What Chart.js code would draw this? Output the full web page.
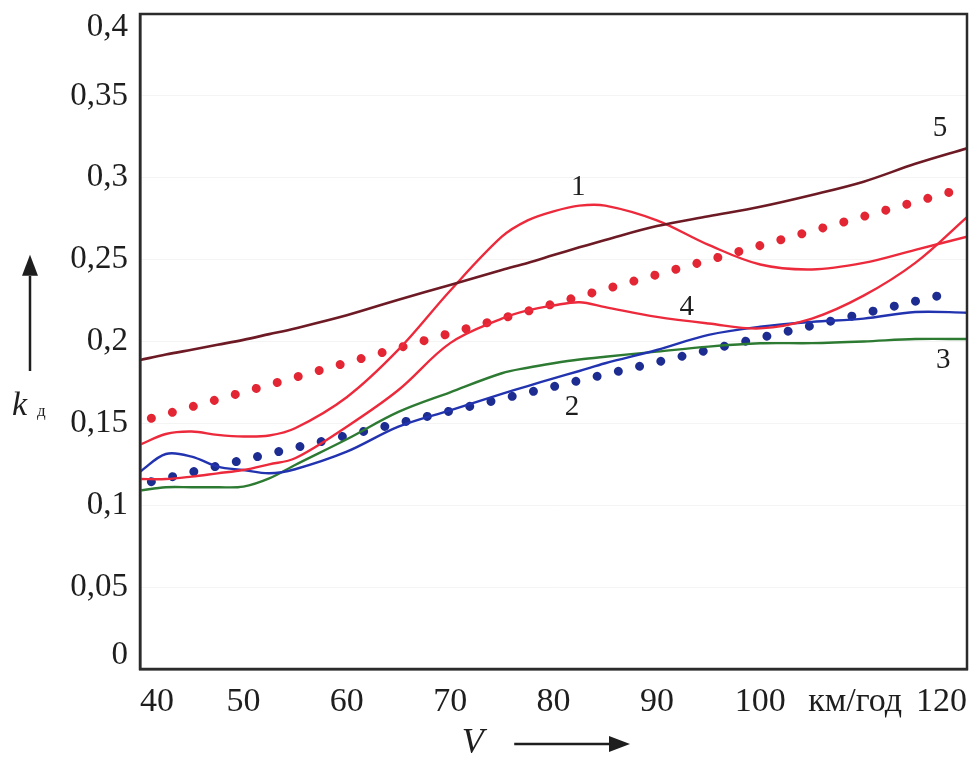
<!DOCTYPE html>
<html>
<head>
<meta charset="utf-8">
<script src="https://cdn.jsdelivr.net/npm/chart.js@4.4.1/dist/chart.umd.min.js"></script>
<style>
  html, body { margin: 0; padding: 0; background: #ffffff; }
  canvas { display: block; }
</style>
</head>
<body>
<canvas id="c" width="980" height="762"></canvas>
<script>
// ---- data ----
const speeds = [40, 42.5, 45, 47.5, 50, 52.5, 55, 60, 65, 70, 75, 77.5, 80, 82.5, 85, 90, 95, 100, 105, 110, 115, 120];

const curve1 = [0.137, 0.1435, 0.145, 0.143, 0.142, 0.1426, 0.147, 0.166, 0.195, 0.231, 0.264, 0.274, 0.2795, 0.283, 0.283, 0.274, 0.259, 0.247, 0.244, 0.248, 0.256, 0.264];
const curve2 = [0.1205, 0.1313, 0.1297, 0.1236, 0.1215, 0.1195, 0.122, 0.1327, 0.148, 0.158, 0.168, 0.1728, 0.1775, 0.182, 0.1867, 0.1948, 0.204, 0.209, 0.212, 0.214, 0.218, 0.2176];
const curve3 = [0.109, 0.111, 0.111, 0.111, 0.1114, 0.1164, 0.1246, 0.1403, 0.157, 0.169, 0.1806, 0.184, 0.1867, 0.189, 0.1907, 0.1938, 0.1969, 0.1989, 0.199, 0.200, 0.2015, 0.2015];
const curve4 = [0.116, 0.116, 0.1175, 0.1195, 0.1215, 0.125, 0.1287, 0.148, 0.1704, 0.199, 0.214, 0.219, 0.222, 0.224, 0.221, 0.215, 0.211, 0.208, 0.214, 0.228, 0.248, 0.276];
const curve5 = [0.1887, 0.192, 0.195, 0.198, 0.201, 0.2045, 0.208, 0.216, 0.2255, 0.2345, 0.2437, 0.248, 0.2528, 0.2575, 0.262, 0.2705, 0.2765, 0.2823, 0.2895, 0.2976, 0.3085, 0.318];

// dotted trend lines (first dot, a middle dot, last dot)
const trendRedSpeeds = [41.1, 83.0, 118.5];
const trendRedValues = [0.1531, 0.2284, 0.2915];
const trendBlueSpeeds = [41.1, 82.7, 118.5];
const trendBlueValues = [0.1144, 0.1765, 0.2298];

const yTickLabels = ['0', '0,05', '0,1', '0,15', '0,2', '0,25', '0,3', '0,35', '0,4'];
const xTickLabels = ['40', '50', '60', '70', '80', '90', '100', 'км/год\u2002', '120'];

// curve numbers: text, speed, value
const curveNames = ['1', '2', '3', '4', '5'];
const curveNameSpeeds = [82.4, 81.8, 117.7, 92.9, 117.4];
const curveNameValues = [0.2943, 0.160, 0.1887, 0.2211, 0.3304];

const yTitle = 'k';
const yTitleSub = 'д';
const xTitle = 'V';

// ---- helpers ----
function pts(xs, ys) { return xs.map((x, i) => ({ x: x, y: ys[i] })); }

const SERIF = '"Liberation Serif", "DejaVu Serif", serif';

const framePlugin = {
  id: 'frame',
  afterDraw(chart) {
    const ctx = chart.ctx;
    const a = chart.chartArea;
    ctx.save();
    ctx.strokeStyle = '#2b2b2b';
    ctx.lineWidth = 2.5;
    ctx.strokeRect(a.left, a.top, a.right - a.left, a.bottom - a.top);
    ctx.restore();
  }
};

const textPlugin = {
  id: 'texts',
  afterDraw(chart) {
    const ctx = chart.ctx;
    const a = chart.chartArea;
    const xs = chart.scales.x, ys = chart.scales.y;
    ctx.save();
    ctx.fillStyle = '#1e1e1e';
    ctx.strokeStyle = '#1e1e1e';
    // curve numbers
    ctx.font = '29px ' + SERIF;
    ctx.textAlign = 'center';
    ctx.textBaseline = 'middle';
    curveNames.forEach((t, i) => {
      ctx.fillText(t, xs.getPixelForValue(curveNameSpeeds[i]), ys.getPixelForValue(curveNameValues[i]));
    });
    // y title: k with subscript
    ctx.textAlign = 'left';
    ctx.textBaseline = 'alphabetic';
    ctx.font = 'italic 34px ' + SERIF;
    const kx = a.left - 128, ky = ys.getPixelForValue(0.155);
    ctx.fillText(yTitle, kx, ky);
    ctx.font = '17px ' + SERIF;
    ctx.fillText(yTitleSub, kx + 25, ky + 1);
    // up arrow
    const ax = a.left - 110;
    ctx.lineWidth = 2.5;
    ctx.beginPath();
    ctx.moveTo(ax, ys.getPixelForValue(0.182));
    ctx.lineTo(ax, ys.getPixelForValue(0.24));
    ctx.stroke();
    const tipY = ys.getPixelForValue(0.253);
    ctx.beginPath();
    ctx.moveTo(ax, tipY);
    ctx.lineTo(ax - 8, tipY + 21);
    ctx.lineTo(ax + 8, tipY + 21);
    ctx.closePath();
    ctx.fill();
    // x title V with right arrow
    ctx.font = 'italic 36px ' + SERIF;
    ctx.textAlign = 'center';
    const vy = a.bottom + 84;
    ctx.fillText(xTitle, xs.getPixelForValue(72.2), vy);
    const arrY = a.bottom + 75;
    ctx.beginPath();
    ctx.moveTo(xs.getPixelForValue(76.2), arrY);
    ctx.lineTo(xs.getPixelForValue(85.5), arrY);
    ctx.stroke();
    const tipX = xs.getPixelForValue(87.4);
    ctx.beginPath();
    ctx.moveTo(tipX, arrY);
    ctx.lineTo(tipX - 21, arrY - 8);
    ctx.lineTo(tipX - 21, arrY + 8);
    ctx.closePath();
    ctx.fill();
    ctx.restore();
  }
};

const solid = (label, data, color, width) => ({
  label: label,
  data: pts(speeds, data),
  borderColor: color,
  borderWidth: width,
  pointRadius: 0,
  fill: false,
  tension: 0.35
});

const dotted = (label, xs, vs, color) => ({
  label: label,
  data: pts(xs, vs),
  borderColor: color,
  borderWidth: 9,
  borderDash: [0.01, 21.8],
  borderCapStyle: 'round',
  pointRadius: 0,
  fill: false,
  tension: 0
});

new Chart(document.getElementById('c'), {
  type: 'line',
  data: {
    datasets: [
      solid('5', curve5, '#6d1a24', 2.6),
      solid('1', curve1, '#ec2a3c', 2.4),
      solid('4', curve4, '#ec2a3c', 2.4),
      solid('2', curve2, '#2233b0', 2.4),
      solid('3', curve3, '#2d7a32', 2.4),
      dotted('trend red', trendRedSpeeds, trendRedValues, '#e32634'),
      dotted('trend blue', trendBlueSpeeds, trendBlueValues, '#1d2c90')
    ]
  },
  options: {
    responsive: false,
    animation: false,
    devicePixelRatio: 1,
    layout: { padding: { top: 14, right: 13, bottom: 0, left: 0 } },
    plugins: {
      legend: { display: false },
      tooltip: { enabled: false }
    },
    scales: {
      x: {
        type: 'linear',
        min: 40,
        max: 120,
        afterFit(s) { s.height = 93; s.paddingLeft = 0; s.paddingRight = 0; },
        afterBuildTicks(s) { s.ticks = [40, 50, 60, 70, 80, 90, 100, 110, 120].map(v => ({ value: v })); },
        ticks: {
          autoSkip: false,
          maxRotation: 0,
          align: 'inner',
          padding: 13,
          color: '#1e1e1e',
          font: { family: SERIF, size: 34 },
          callback: (v, i) => xTickLabels[i]
        },
        grid: { display: false, drawTicks: false },
        border: { display: true, color: '#2b2b2b', width: 2.5 }
      },
      y: {
        type: 'linear',
        min: 0,
        max: 0.4,
        afterFit(s) { s.width = 140; s.paddingTop = 0; s.paddingBottom = 0; },
        afterBuildTicks(s) { s.ticks = [0, 0.05, 0.1, 0.15, 0.2, 0.25, 0.3, 0.35, 0.4].map(v => ({ value: v })); },
        ticks: {
          autoSkip: false,
          padding: 12,
          color: '#1e1e1e',
          font: { family: SERIF, size: 33, lineHeight: 0.8 },
          callback: (v, i) => {
            const t = yTickLabels[i];
            if (i === 0) return [t, ''];
            if (i === yTickLabels.length - 1) return ['', t];
            return t;
          }
        },
        grid: { color: 'rgba(0,0,0,0.045)', drawTicks: false, lineWidth: 1 },
        border: { display: true, color: '#2b2b2b', width: 2.5 }
      }
    }
  },
  plugins: [framePlugin, textPlugin]
});
</script>
</body>
</html>
